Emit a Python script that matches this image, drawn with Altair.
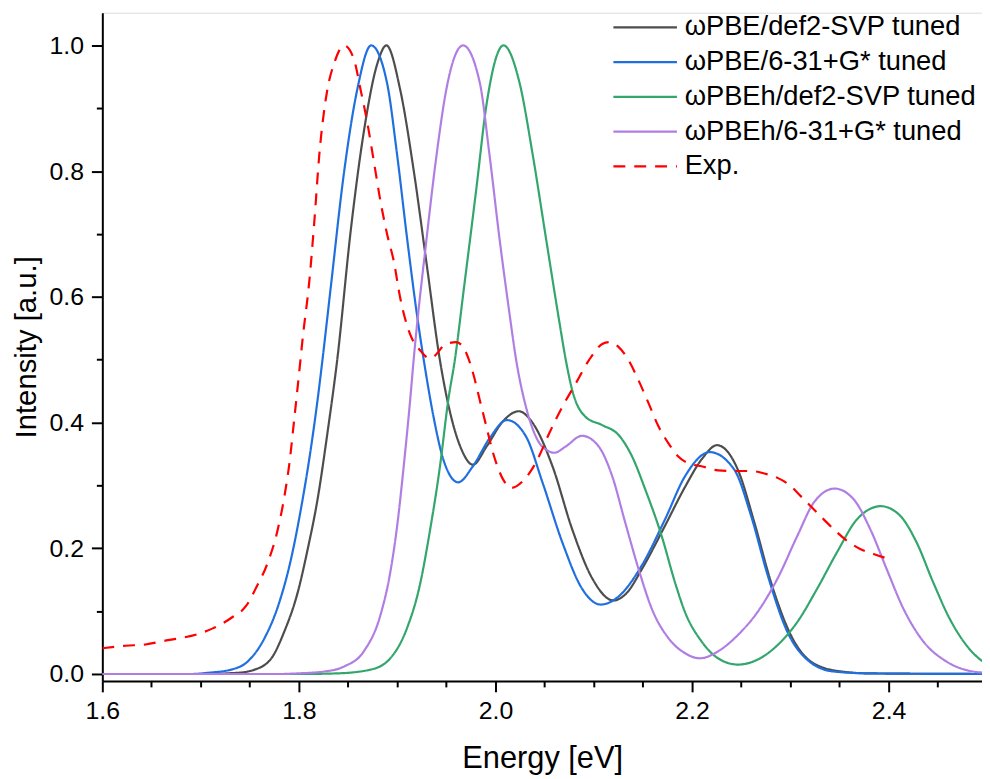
import altair as alt
import pandas as pd

SERIES = ["ωPBE/def2-SVP tuned", "ωPBE/6-31+G* tuned", "ωPBEh/def2-SVP tuned",
          "ωPBEh/6-31+G* tuned", "Exp."]
COLORS = ["#4d4d4d", "#1f6fe0", "#32a66c", "#b07ee3", "#ff0000"]
DASHES = [[1, 0], [1, 0], [1, 0], [1, 0], [12, 9]]

X_MAJOR = [1.6, 1.8, 2.0, 2.2, 2.4]
X_MINOR = [1.65, 1.7, 1.75, 1.85, 1.9, 1.95, 2.05, 2.1, 2.15, 2.25, 2.3, 2.35, 2.45]
Y_MAJOR = [0.0, 0.2, 0.4, 0.6, 0.8, 1.0]
Y_MINOR = [0.1, 0.3, 0.5, 0.7, 0.9]

pbe_svp_x = [1.60, 1.70, 1.738, 1.755, 1.772, 1.785, 1.799, 1.809, 1.819, 1.829, 1.839, 1.853,
             1.866, 1.880, 1.889, 1.903, 1.917, 1.930, 1.9435, 1.954, 1.9655, 1.977, 1.991,
             2.0076, 2.0237, 2.038, 2.058, 2.078, 2.0985, 2.120, 2.133, 2.149, 2.1725, 2.193,
             2.210, 2.2254, 2.2466, 2.2634, 2.2803, 2.3005, 2.3207, 2.3476, 2.38, 2.50]
pbe_svp_y = [0.0, 0.0, 0.002, 0.007, 0.025, 0.067, 0.131, 0.199, 0.278, 0.383, 0.50, 0.709,
             0.862, 0.972, 1.0, 0.930, 0.799, 0.652, 0.499, 0.415, 0.357, 0.333, 0.362,
             0.402, 0.418, 0.399, 0.3305, 0.2305, 0.152, 0.117, 0.128, 0.167, 0.236, 0.298,
             0.342, 0.364, 0.325, 0.241, 0.146, 0.062, 0.020, 0.005, 0.001, 0.0]

pbe_631_x = [1.60, 1.69, 1.708, 1.731, 1.748, 1.765, 1.779, 1.792, 1.802, 1.812, 1.819, 1.824,
             1.8324, 1.846, 1.8594, 1.8735, 1.8897, 1.90, 1.910, 1.920, 1.927, 1.937, 1.947,
             1.962, 1.977, 1.994, 2.0116, 2.031, 2.048, 2.068, 2.088, 2.107, 2.125, 2.149,
             2.1725, 2.193, 2.218, 2.243, 2.260, 2.277, 2.297, 2.317, 2.344, 2.38, 2.50]
pbe_631_y = [0.0, 0.0, 0.002, 0.007, 0.020, 0.057, 0.109, 0.183, 0.262, 0.357, 0.436, 0.50,
             0.615, 0.799, 0.930, 1.0, 0.940, 0.825, 0.694, 0.573, 0.50, 0.409, 0.341,
             0.305, 0.3305, 0.375, 0.404, 0.378, 0.304, 0.2095, 0.136, 0.1105, 0.123, 0.173,
             0.246, 0.315, 0.353, 0.325, 0.252, 0.157, 0.067, 0.023, 0.004, 0.001, 0.0]

pbeh_svp_x = [1.60, 1.80, 1.839, 1.873, 1.893, 1.910, 1.923, 1.933, 1.9435, 1.952, 1.9587,
              1.968, 1.9806, 1.9907, 2.0082, 2.0244, 2.038, 2.0513, 2.0648, 2.0715, 2.078,
              2.0917, 2.1086, 2.1254, 2.139, 2.1523, 2.169, 2.1826, 2.1927, 2.2096, 2.2264,
              2.2466, 2.2668, 2.287, 2.3072, 2.3274, 2.3476, 2.3678, 2.392, 2.4116, 2.4284,
              2.4453, 2.4621, 2.479, 2.4958, 2.50]
pbeh_svp_y = [0.0, 0.0, 0.001, 0.007, 0.025, 0.073, 0.141, 0.225, 0.33, 0.436, 0.50,
              0.615, 0.773, 0.904, 1.0, 0.941, 0.825, 0.694, 0.562, 0.50, 0.452,
              0.409, 0.396, 0.38, 0.346, 0.294, 0.220, 0.146, 0.099, 0.052, 0.025,
              0.015, 0.023, 0.046, 0.083, 0.136, 0.194, 0.246, 0.267, 0.252, 0.2095,
              0.146, 0.088, 0.046, 0.020, 0.016]

pbeh_631_x = [1.60, 1.78, 1.799, 1.826, 1.846, 1.866, 1.883, 1.893, 1.90, 1.9066, 1.9132,
              1.9167, 1.930, 1.940, 1.950, 1.967, 1.984, 1.994, 2.004, 2.0143, 2.021, 2.031,
              2.041, 2.0547, 2.060, 2.0715, 2.088, 2.105, 2.1187, 2.132, 2.1456, 2.159, 2.176,
              2.193, 2.208, 2.2264, 2.2466, 2.2668, 2.287, 2.3072, 2.324, 2.345, 2.3644,
              2.3813, 2.398, 2.415, 2.4352, 2.4587, 2.4857, 2.50]
pbeh_631_y = [0.0, 0.0, 0.001, 0.004, 0.012, 0.036, 0.094, 0.162, 0.236, 0.33, 0.436,
              0.499, 0.694, 0.825, 0.930, 1.0, 0.941, 0.825, 0.694, 0.573, 0.50, 0.425,
              0.378, 0.354, 0.352, 0.362, 0.379, 0.362, 0.315, 0.241, 0.167, 0.104, 0.057,
              0.033, 0.025, 0.036, 0.062, 0.099, 0.152, 0.220, 0.273, 0.295, 0.278,
              0.2305, 0.167, 0.104, 0.052, 0.020, 0.004, 0.002]

exp_x = [1.600, 1.6237, 1.644, 1.664, 1.679, 1.696, 1.713, 1.7314, 1.7466, 1.7567, 1.7685,
         1.7786, 1.7853, 1.7904, 1.7955, 1.8005, 1.8039, 1.8106, 1.8157, 1.8207, 1.829, 1.836,
         1.846, 1.856, 1.8627, 1.8695, 1.8763, 1.883, 1.8897, 1.8965, 1.903, 1.913, 1.9233,
         1.9334, 1.950, 1.960, 1.9705, 1.9773, 1.984, 1.9907, 1.9975, 2.0076, 2.016, 2.0278,
         2.041, 2.0547, 2.068, 2.0816, 2.095, 2.1086, 2.1153, 2.1254, 2.1355, 2.1456, 2.1557,
         2.1658, 2.176, 2.186, 2.2011, 2.2096, 2.2264, 2.243, 2.260, 2.2735, 2.287, 2.3005,
         2.3106, 2.3207, 2.334, 2.344, 2.3577, 2.371, 2.3846, 2.4021]
exp_y = [0.041, 0.045, 0.047, 0.053, 0.057, 0.063, 0.073, 0.0895, 0.109, 0.138, 0.178,
         0.2305, 0.283, 0.336, 0.409, 0.483, 0.535, 0.625, 0.720, 0.825, 0.930, 0.972,
         1.0, 0.978, 0.930, 0.878, 0.815, 0.752, 0.70, 0.657, 0.599, 0.541, 0.515,
         0.502, 0.525, 0.528, 0.51, 0.478, 0.436, 0.394, 0.352, 0.31, 0.296, 0.307,
         0.336, 0.383, 0.425, 0.462, 0.499, 0.525, 0.528, 0.52, 0.499, 0.467, 0.431,
         0.394, 0.367, 0.346, 0.333, 0.3305, 0.324, 0.323, 0.323, 0.319, 0.312, 0.299,
         0.283, 0.267, 0.246, 0.2305, 0.212, 0.199, 0.191, 0.182]

series_data = [
    (SERIES[0], pbe_svp_x, pbe_svp_y),
    (SERIES[1], pbe_631_x, pbe_631_y),
    (SERIES[2], pbeh_svp_x, pbeh_svp_y),
    (SERIES[3], pbeh_631_x, pbeh_631_y),
    (SERIES[4], exp_x, exp_y),
]
frames = [pd.DataFrame({"energy": xs, "intensity": ys, "series": name})
          for name, xs, ys in series_data]

FONT = "Liberation Sans"
xscale = alt.Scale(domain=[1.6, 2.495], nice=False, zero=False)
yscale = alt.Scale(domain=[-0.011, 1.052], nice=False, zero=False)

legend = alt.Legend(
    title=None, orient="none", legendX=533, legendY=1, padding=0,
    symbolType="M-4,0H4", symbolSize=256, symbolStrokeWidth=2.2,
    labelFont=FONT, labelFontSize=27.5, labelColor="black", labelLimit=500,
    labelOffset=26, rowPadding=6, labelBaseline="middle",
)
color = alt.Color("series:N", scale=alt.Scale(domain=SERIES, range=COLORS), legend=legend)
dash = alt.StrokeDash("series:N", scale=alt.Scale(domain=SERIES, range=DASHES), legend=legend)

x_major = alt.Axis(values=X_MAJOR, format=".1f", title="Energy [eV]", orient="bottom",
                   tickSize=11, labelFontSize=25, labelPadding=7, titleFontSize=31,
                   titleY=87, titleBaseline="alphabetic", grid=False,
                   domainColor="black", domainWidth=2, tickColor="black", tickWidth=2,
                   labelFont=FONT, labelColor="black", titleFont=FONT, titleColor="black",
                   titleFontWeight="normal", labelOverlap=False, labelFlush=False)
y_major = alt.Axis(values=Y_MAJOR, format=".1f", title="Intensity [a.u.]", orient="left",
                   tickSize=11, labelFontSize=25, labelPadding=8, titleFontSize=29.5,
                   titleX=-67, titleBaseline="alphabetic", grid=False,
                   domainColor="black", domainWidth=2, tickColor="black", tickWidth=2,
                   labelFont=FONT, labelColor="black", titleFont=FONT, titleColor="black",
                   titleFontWeight="normal", labelOverlap=False, labelFlush=False)
x_minor = alt.Axis(values=X_MINOR, orient="bottom", labels=False, domain=False, title=None,
                   tickSize=6, tickWidth=2, tickColor="black", grid=False)
y_minor = alt.Axis(values=Y_MINOR, orient="left", labels=False, domain=False, title=None,
                   tickSize=6, tickWidth=2, tickColor="black", grid=False)

minor = alt.Chart(frames[0]).mark_point(opacity=0).encode(
    x=alt.X("energy:Q", scale=xscale, axis=x_minor),
    y=alt.Y("intensity:Q", scale=yscale, axis=y_minor),
)

layers = [minor]
for i, df in enumerate(frames):
    layers.append(
        alt.Chart(df).mark_line(strokeWidth=2.2, clip=True, interpolate="monotone").encode(
            x=alt.X("energy:Q", scale=xscale, axis=x_major if i == 0 else None),
            y=alt.Y("intensity:Q", scale=yscale, axis=y_major if i == 0 else None),
            color=color,
            strokeDash=dash,
        )
    )

chart = alt.layer(*layers).resolve_axis(
    x="independent", y="independent"
).properties(
    width=886, height=673,
    autosize=alt.AutoSizeParams(type="none"),
    padding={"left": 95, "top": 2, "right": 0, "bottom": 93},
).configure_view(stroke=None).configure(background="white")

chart.save("out.html", embed_options={"renderer": "svg", "actions": False})
